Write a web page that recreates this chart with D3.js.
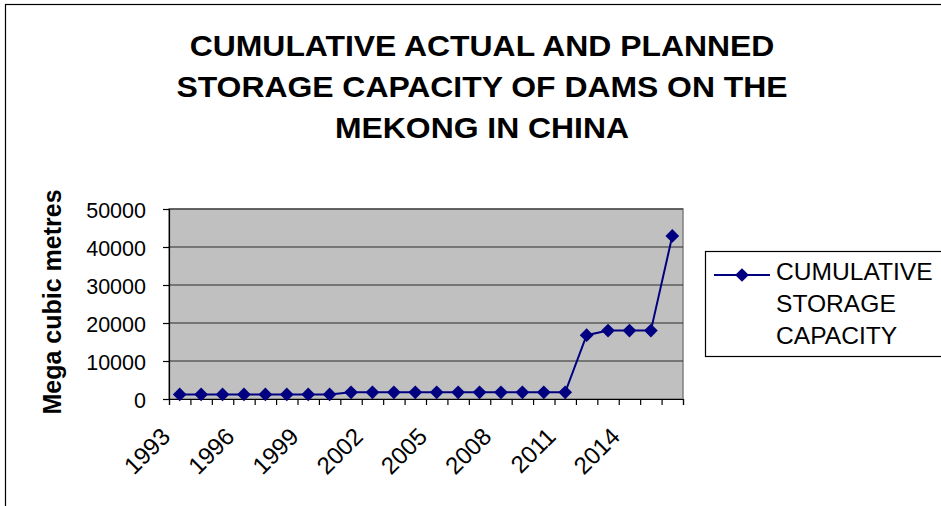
<!DOCTYPE html>
<html>
<head>
<meta charset="utf-8">
<script src="https://cdn.jsdelivr.net/npm/d3@7/dist/d3.min.js"></script>
<style>
  html, body { margin: 0; padding: 0; background: #fff; }
  svg { display: block; font-family: "Liberation Sans", Arial, sans-serif; }
</style>
</head>
<body>
<svg id="chart" width="941" height="506"></svg>
<script>
// ---- data ----
const years = [1993,1994,1995,1996,1997,1998,1999,2000,2001,2002,2003,2004,
               2005,2006,2007,2008,2009,2010,2011,2012,2013,2014,2015,2016];
const capacity = [1200,1200,1200,1200,1200,1200,1200,1200,
                  1750,1750,1750,1750,1750,1750,1750,1750,1750,1750,1750,
                  16800,18000,18000,18000,42900];
const yTicks = [0,10000,20000,30000,40000,50000];
const xLabelYears = [1993,1996,1999,2002,2005,2008,2011,2014];
const titleLines = ["CUMULATIVE ACTUAL AND PLANNED","STORAGE CAPACITY OF DAMS ON THE","MEKONG IN CHINA"];
const yTitle = "Mega cubic metres";
const legendLines = ["CUMULATIVE","STORAGE","CAPACITY"];

// ---- layout ----
const svg = d3.select("#chart");
const plot = {left: 169, right: 683, top: 209, bottom: 399};
const navy = "#000080";

// outer chart border
svg.append("rect").attr("x",5.5).attr("y",4.5).attr("width",1200).attr("height",1200)
  .attr("fill","none").attr("stroke","#000").attr("stroke-width",1.2);

const x = d3.scaleBand().domain(years).range([plot.left, plot.right]).padding(0);
const xb = d3.scaleLinear().domain([0, years.length]).range([plot.left, plot.right]);
const y = d3.scaleLinear().domain([0,50000]).range([plot.bottom, plot.top]);
const cx = d => x(d) + x.bandwidth()/2;

// plot area
svg.append("rect").attr("x",plot.left).attr("y",plot.top)
  .attr("width",plot.right-plot.left).attr("height",plot.bottom-plot.top)
  .attr("fill","#C0C0C0").attr("stroke","#808080").attr("stroke-width",1.5);

// gridlines
svg.append("g").selectAll("line").data(yTicks.filter(v=>v>0)).join("line")
  .attr("x1",plot.left).attr("x2",plot.right)
  .attr("y1",d=>y(d)).attr("y2",d=>y(d))
  .attr("stroke","#2a2a2a").attr("stroke-width",1.2);

// y axis
const yAxis = svg.append("g").attr("transform",`translate(${plot.left},0)`)
  .call(d3.axisLeft(y).tickValues(yTicks).tickSize(6).tickFormat(d3.format("d")));
yAxis.select(".domain").attr("stroke","#000").attr("stroke-width",1.2);
yAxis.selectAll(".tick line").attr("stroke","#000").attr("stroke-width",1.2);
yAxis.selectAll(".tick text")
  .attr("x",null).attr("dy",null)
  .attr("transform","translate(-23,8)")
  .attr("font-size",21.5).attr("fill","#000")
  .attr("font-family","'Liberation Sans', Arial, sans-serif");

// x axis (ticks at category boundaries)
const xAxis = svg.append("g").attr("transform",`translate(0,${plot.bottom})`)
  .call(d3.axisBottom(xb).tickValues(d3.range(years.length+1)).tickSize(6).tickFormat(""));
xAxis.select(".domain").attr("stroke","#000").attr("stroke-width",1.2);
xAxis.selectAll(".tick line").attr("stroke","#000").attr("stroke-width",1.2);

// x labels (rotated)
svg.append("g").selectAll("text").data(xLabelYears).join("text")
  .attr("transform",d=>`translate(${cx(d)-8},${plot.bottom+39}) rotate(-45)`)
  .attr("text-anchor","end").attr("font-size",24).attr("fill","#000")
  .text(d=>d);

// line
const line = d3.line().x((d,i)=>cx(years[i])).y(d=>y(d));
svg.append("path").datum(capacity).attr("d",line)
  .attr("fill","none").attr("stroke",navy).attr("stroke-width",2);

// markers
const diamond = d3.symbol().type(d3.symbolDiamond2).size(120);
svg.append("g").selectAll("path").data(capacity).join("path")
  .attr("transform",(d,i)=>`translate(${cx(years[i])},${y(d)})`)
  .attr("d",diamond).attr("fill",navy);

// title
svg.append("g").selectAll("text").data(titleLines).join("text")
  .attr("transform",(d,i)=>`translate(482,${56+i*41}) scale(1.1,1)`)
  .attr("text-anchor","middle").attr("font-size",29).attr("font-weight","bold")
  .attr("fill","#000").text(d=>d);

// y title
svg.append("text").attr("transform","translate(61,302) rotate(-90)")
  .attr("text-anchor","middle").attr("font-size",25).attr("font-weight","bold")
  .attr("fill","#000").text(yTitle);

// legend
const lg = svg.append("g");
lg.append("rect").attr("x",705.5).attr("y",251.5).attr("width",300).attr("height",105)
  .attr("fill","#fff").attr("stroke","#000").attr("stroke-width",1.2);
lg.append("line").attr("x1",714).attr("x2",770).attr("y1",275).attr("y2",275)
  .attr("stroke",navy).attr("stroke-width",2);
lg.append("path").attr("transform","translate(742,275)").attr("d",diamond).attr("fill",navy);
lg.selectAll("text").data(legendLines).join("text")
  .attr("transform",(d,i)=>`translate(776,${280+i*32}) scale(1.07,1)`)
  .attr("font-size",23).attr("fill","#000").text(d=>d);
</script>
</body>
</html>
